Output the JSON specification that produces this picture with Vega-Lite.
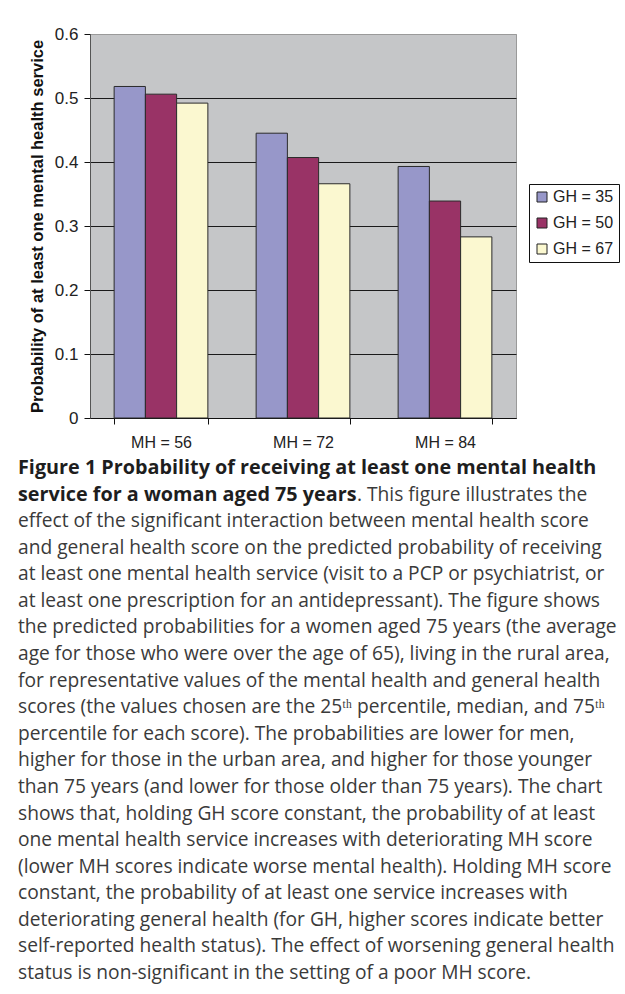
{
  "$schema": "https://vega.github.io/schema/vega-lite/v6.json",
  "background": "white",
  "padding": {"left": 18, "top": 24, "right": 0, "bottom": 6},
  "spacing": 7,
  "config": {"font": "Liberation Sans"},
  "vconcat": [
    {
      "width": 426,
      "height": 384,
      "view": {"fill": "#c5c6c8", "stroke": "#9a9a9a"},
      "data": {
        "values": [
          {"mh": "MH = 56", "gh": "GH = 35", "p": 0.518},
          {"mh": "MH = 56", "gh": "GH = 50", "p": 0.506},
          {"mh": "MH = 56", "gh": "GH = 67", "p": 0.492},
          {"mh": "MH = 72", "gh": "GH = 35", "p": 0.445},
          {"mh": "MH = 72", "gh": "GH = 50", "p": 0.407},
          {"mh": "MH = 72", "gh": "GH = 67", "p": 0.366},
          {"mh": "MH = 84", "gh": "GH = 35", "p": 0.393},
          {"mh": "MH = 84", "gh": "GH = 50", "p": 0.339},
          {"mh": "MH = 84", "gh": "GH = 67", "p": 0.283}
        ]
      },
      "mark": {"type": "bar", "stroke": "#2b2b2b", "strokeWidth": 1},
      "encoding": {
        "x": {
          "field": "mh", "type": "nominal",
          "sort": ["MH = 56", "MH = 72", "MH = 84"],
          "scale": {"paddingInner": 0.34, "paddingOuter": 0.17},
          "axis": {
            "title": null, "labelAngle": 0, "tickBand": "extent",
            "tickSize": 6, "tickColor": "#111", "domainColor": "#111",
            "labelFontSize": 16, "labelPadding": 10, "labelColor": "#222", "grid": false
          }
        },
        "xOffset": {
          "field": "gh", "type": "nominal",
          "sort": ["GH = 35", "GH = 50", "GH = 67"],
          "scale": {"paddingInner": 0, "paddingOuter": 0}
        },
        "y": {
          "field": "p", "type": "quantitative",
          "scale": {"domain": [0, 0.6], "nice": false},
          "axis": {
            "title": "Probability of at least one mental health service",
            "titleFontSize": 16.5, "titleFontWeight": "bold", "titleColor": "#111", "titlePadding": 9,
            "values": [0, 0.1, 0.2, 0.3, 0.4, 0.5, 0.6],
            "format": ".1~f",
            "labelFontSize": 17, "labelColor": "#222", "labelPadding": 6,
            "tickSize": 6, "tickColor": "#111", "domainColor": "#555",
            "grid": true,
            "gridColor": {"condition": {"test": "datum.value >= 0.6", "value": "#9a9a9a"}, "value": "#1a1a1a"},
            "gridOpacity": 1, "gridWidth": 1
          }
        },
        "color": {
          "field": "gh", "type": "nominal",
          "scale": {"domain": ["GH = 35", "GH = 50", "GH = 67"], "range": ["#9797c9", "#993366", "#fbf8d0"]},
          "legend": {
            "title": null, "orient": "none", "legendX": 439, "legendY": 150,
            "symbolType": "square", "symbolSize": 100, "symbolStrokeColor": "#222", "symbolStrokeWidth": 1,
            "labelFontSize": 16, "labelColor": "#222", "labelOffset": 3,
            "strokeColor": "#111", "fillColor": "white", "padding": 5, "rowPadding": 10
          }
        }
      }
    },
    {
      "width": 426,
      "height": 505,
      "view": {"stroke": null},
      "data": {
        "values": [
          {"line": 1, "seg": "bold", "text": "Figure 1 Probability of receiving at least one mental health"},
          {"line": 2, "seg": "bold", "text": "service for a woman aged 75 years"},
          {"line": 2, "seg": "tail", "text": ". This figure illustrates the"},
          {"line": 3, "seg": "plain", "text": "effect of the significant interaction between mental health score"},
          {"line": 4, "seg": "plain", "text": "and general health score on the predicted probability of receiving"},
          {"line": 5, "seg": "plain", "text": "at least one mental health service (visit to a PCP or psychiatrist, or"},
          {"line": 6, "seg": "plain", "text": "at least one prescription for an antidepressant). The figure shows"},
          {"line": 7, "seg": "plain", "text": "the predicted probabilities for a women aged 75 years (the average"},
          {"line": 8, "seg": "plain", "text": "age for those who were over the age of 65), living in the rural area,"},
          {"line": 9, "seg": "plain", "text": "for representative values of the mental health and general health"},
          {"line": 10, "seg": "plain", "text": "scores (the values chosen are the 25ᵗʰ percentile, median, and 75ᵗʰ"},
          {"line": 11, "seg": "plain", "text": "percentile for each score). The probabilities are lower for men,"},
          {"line": 12, "seg": "plain", "text": "higher for those in the urban area, and higher for those younger"},
          {"line": 13, "seg": "plain", "text": "than 75 years (and lower for those older than 75 years). The chart"},
          {"line": 14, "seg": "plain", "text": "shows that, holding GH score constant, the probability of at least"},
          {"line": 15, "seg": "plain", "text": "one mental health service increases with deteriorating MH score"},
          {"line": 16, "seg": "plain", "text": "(lower MH scores indicate worse mental health). Holding MH score"},
          {"line": 17, "seg": "plain", "text": "constant, the probability of at least one service increases with"},
          {"line": 18, "seg": "plain", "text": "deteriorating general health (for GH, higher scores indicate better"},
          {"line": 19, "seg": "plain", "text": "self-reported health status). The effect of worsening general health"},
          {"line": 20, "seg": "plain", "text": "status is non-significant in the setting of a poor MH score."}
        ]
      },
      "encoding": {
        "y": {"field": "line", "type": "ordinal", "axis": null, "scale": {"type": "point", "padding": 0}},
        "x": {"value": -72},
        "text": {"field": "text"}
      },
      "layer": [
        {
          "transform": [{"filter": "datum.seg == 'bold'"}],
          "mark": {"type": "text", "align": "left", "baseline": "middle", "font": "Open Sans", "fontSize": 19.8, "fontWeight": "bold", "color": "#1e1e1e"}
        },
        {
          "transform": [{"filter": "datum.seg == 'plain'"}],
          "mark": {"type": "text", "align": "left", "baseline": "middle", "font": "Open Sans", "fontSize": 19.2, "color": "#3a3a3a"}
        },
        {
          "transform": [{"filter": "datum.seg == 'tail'"}],
          "mark": {"type": "text", "align": "left", "baseline": "middle", "font": "Open Sans", "fontSize": 19.2, "color": "#3a3a3a", "dx": 339}
        }
      ]
    }
  ]
}
